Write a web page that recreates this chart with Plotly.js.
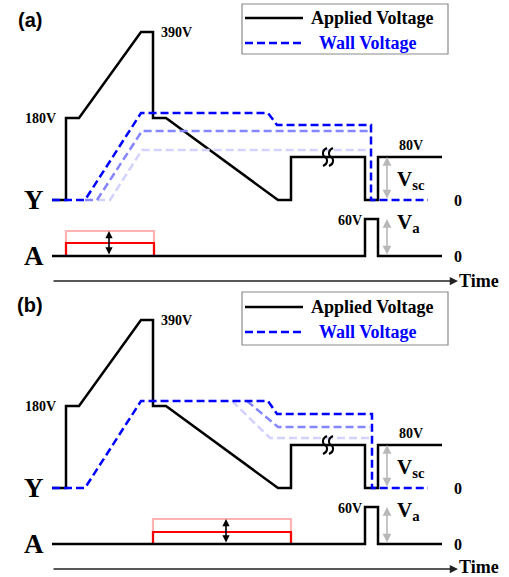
<!DOCTYPE html>
<html>
<head>
<meta charset="utf-8">
<script src="https://cdn.plot.ly/plotly-3.0.1.min.js"></script>
<style>html,body{margin:0;padding:0;background:#fff;}#chart{width:509px;height:577px;}</style>
</head>
<body>
<div id="chart"></div>
<script>
// ---- Data (time in a.u., levels in schematic height units) ----
// Applied voltage on the Y electrode (same in both panels)
const appliedTime  = [0, 14, 14, 27, 89, 101, 101, 114, 226, 239, 239, 313, 313, 326, 326, 390];
const appliedLevel = [0, 0, 82, 82, 168, 168, 82, 82, 0, 0, 43, 43, 0, 0, 43, 43];
// Applied voltage on the A electrode
const addressTime  = [0, 313, 313, 326, 326, 390];
const addressLevel = [0, 0, 37, 37, 0, 0];
// Wall voltage, panel (a)
const wallA1Time  = [0, 33, 89, 216, 225, 319, 319, 376];
const wallA1Level = [0, 0, 87, 87, 75, 75, 0, 0];
const wallA2Time  = [33, 45, 90, 317];
const wallA2Level = [0, 0, 69, 69];
const wallA3Time  = [45, 58, 90, 317];
const wallA3Level = [0, 0, 50, 50];
// Wall voltage, panel (b)
const wallB1Time  = [0, 33, 89, 216, 225, 320, 320, 376];
const wallB1Level = [0, 0, 87, 87, 74, 74, 0, 0];
const wallB2Time  = [195, 226, 318];
const wallB2Level = [87, 61, 61];
const wallB3Time  = [180, 218, 318];
const wallB3Level = [87, 50, 50];
// Address pulses (start, end) and heights (strong, faint)
const pulseA = [14, 102];
const pulseB = [101, 239];
const pulseHeights = [13, 25];
const pulseHeightsB = [12, 25];
// Labels
const legendLabels = ["Applied Voltage", "Wall Voltage"];
const levelLabels = ["180V", "390V", "80V", "60V", "0"];

// ---- Layout constants ----
const X0 = 52;                       // pixel of t = 0
const panels = [
  {name: "(a)", yBase: 200, aBase: 256, axis: 281, shift: 0},
  {name: "(b)", yBase: 488, aBase: 544, axis: 569, shift: 288}
];
const px = v => v - X0;
const serif = "Liberation Serif, Times New Roman, serif";

const traces = [];
const shapes = [];
const annotations = [];

function line(t, lv, base, color, width, dash) {
  traces.push({
    x: t, y: lv.map(v => base - v), mode: "lines", type: "scatter",
    line: {color: color, width: width, dash: dash || "solid", shape: "linear"},
    hoverinfo: "skip", showlegend: false
  });
}
function ann(x, y, text, opts) {
  annotations.push(Object.assign({x: x, y: y, xref: "x", yref: "y", text: text, showarrow: false,
    font: {family: serif, size: 14, color: "#000"}}, opts || {}));
}
function arrow(x, y0, y1, color, both, width, size, ax) {
  annotations.push({x: x, y: y1, ax: (ax === undefined ? x : ax), ay: y0, xref: "x", yref: "y", axref: "x", ayref: "y",
    text: "", showarrow: true, arrowhead: 2, arrowsize: size || 1, arrowwidth: width || 1.5,
    arrowcolor: color, arrowside: both ? "end+start" : "end", standoff: 0, startstandoff: 0});
}

const wallSets = [
  [[wallA3Time, wallA3Level], [wallA2Time, wallA2Level], [wallA1Time, wallA1Level]],
  [[wallB3Time, wallB3Level], [wallB2Time, wallB2Level], [wallB1Time, wallB1Level]]
];
const wallColors = ["#d2d2ff", "#8585ff", "#0000ff"];
const pulses = [[pulseA, pulseHeights], [pulseB, pulseHeightsB]];

panels.forEach((p, i) => {
  // pulses on A electrode (faint upper, strong lower)
  const [pt, ph] = pulses[i];
  line([pt[0], pt[0], pt[1], pt[1]], [0, ph[1], ph[1], 0], p.aBase, "#ffb3b3", 2.2);
  line([pt[0], pt[0], pt[1], pt[1]], [0, ph[0], ph[0], 0], p.aBase, "#ff0000", 2.2);
  // applied voltages
  line(appliedTime, appliedLevel, p.yBase, "#000", 2.5);
  line(addressTime, addressLevel, p.aBase, "#000", 2.5);
  // wall voltages
  wallSets[i].forEach((w, k) => line(w[0], w[1], p.yBase, wallColors[k], 2.5, "8px,4px"));

  // time axis
  arrow(px(458), p.axis, p.axis, "#222", false, 1.5, 1.1, 0);
  ann(px(457), p.axis - (i ? 2 : 0), "<b>Time</b>", {xanchor: "left", font: {family: serif, size: 18, color: "#000"}});

  // double arrow showing pulse height change
  const mid = i === 0 ? px(109) : px(226);
  arrow(mid, p.aBase, p.aBase - pulses[i][1][1], "#000", true, 1.6, 0.9);

  // grey Vsc / Va arrows
  arrow(px(387), p.yBase, p.yBase - appliedLevel[appliedLevel.length - 1], "#b8b8b8", true, 1.6, 1.1);
  arrow(px(387), p.aBase, p.aBase - addressLevel[2], "#b8b8b8", true, 1.6, 1.1);

  // texts
  ann(px(30), 20 + p.shift + (i ? -3 : 0), "<b>" + p.name + "</b>", {font: {family: "Liberation Sans, Arial, sans-serif", size: 20, color: "#000"}});
  ann(px(58), p.yBase - appliedLevel[2], "<b>" + levelLabels[0] + "</b>", {xanchor: "right"});
  ann(px(159), p.yBase - appliedLevel[4], "<b>" + levelLabels[1] + "</b>", {xanchor: "left"});
  ann(px(411), p.yBase - appliedLevel[10] - 12, "<b>" + levelLabels[2] + "</b>");
  ann(px(364), p.aBase - addressLevel[2] + 1, "<b>" + levelLabels[3] + "</b>", {xanchor: "right"});
  ann(px(458), p.yBase, "<b>" + levelLabels[4] + "</b>", {font: {family: serif, size: 16, color: "#000"}});
  ann(px(458), p.aBase, "<b>" + levelLabels[4] + "</b>", {font: {family: serif, size: 16, color: "#000"}});
  ann(px(34), p.yBase, "<b>Y</b>", {font: {family: serif, size: 27, color: "#000"}});
  ann(px(34), p.aBase, "<b>A</b>", {font: {family: serif, size: 27, color: "#000"}});
  ann(px(395), p.yBase - 20, "<b>V<sub>sc</sub></b>", {xanchor: "left", font: {family: serif, size: 21, color: "#000"}});
  ann(px(395), p.aBase - 33, "<b>V<sub>a</sub></b>", {xanchor: "left", font: {family: serif, size: 21, color: "#000"}});

  // break symbol on the 80V hold
  const bx = px(328), by = p.yBase - appliedLevel[10];
  [-3, 3].forEach(dx => {
    const x = bx + dx;
    shapes.push({type: "path", xref: "x", yref: "y", line: {color: "#000", width: 2},
      path: `M ${x + 2} ${by - 9} C ${x - 3} ${by - 7}, ${x - 3} ${by - 2}, ${x} ${by} C ${x + 3} ${by + 2}, ${x + 3} ${by + 7}, ${x - 2} ${by + 9}`});
  });

  // legend box
  const lt = i === 0 ? 4 : 292, lb = i === 0 ? 54 : 345;
  shapes.push({type: "rect", xref: "x", yref: "y", x0: px(242), x1: px(448), y0: lt, y1: lb,
    line: {color: "#8a8a8a", width: 1.2}, fillcolor: "rgba(0,0,0,0)"});
  const l1 = i === 0 ? 18 : 307, l2 = i === 0 ? 43 : 332;
  shapes.push({type: "line", xref: "x", yref: "y", x0: px(245), x1: px(303), y0: l1, y1: l1,
    line: {color: "#000", width: 2.5}});
  shapes.push({type: "line", xref: "x", yref: "y", x0: px(245), x1: px(303), y0: l2, y1: l2,
    line: {color: "#0000ff", width: 2.5, dash: "8px,4px"}});
  ann(px(309), l1, "<b>" + legendLabels[0] + "</b>", {xanchor: "left", font: {family: serif, size: 18, color: "#000"}});
  ann(px(317), l2, "<b>" + legendLabels[1] + "</b>", {xanchor: "left", font: {family: serif, size: 18, color: "#0000ff"}});
});

const layout = {
  width: 509, height: 577,
  margin: {l: 0, r: 0, t: 0, b: 0},
  paper_bgcolor: "#fff", plot_bgcolor: "#fff",
  xaxis: {range: [-X0, 509 - X0], visible: false, fixedrange: true},
  yaxis: {range: [577, 0], visible: false, fixedrange: true},
  showlegend: false,
  shapes: shapes,
  annotations: annotations
};
Plotly.newPlot("chart", traces, layout, {displayModeBar: false, staticPlot: true});
</script>
</body>
</html>
